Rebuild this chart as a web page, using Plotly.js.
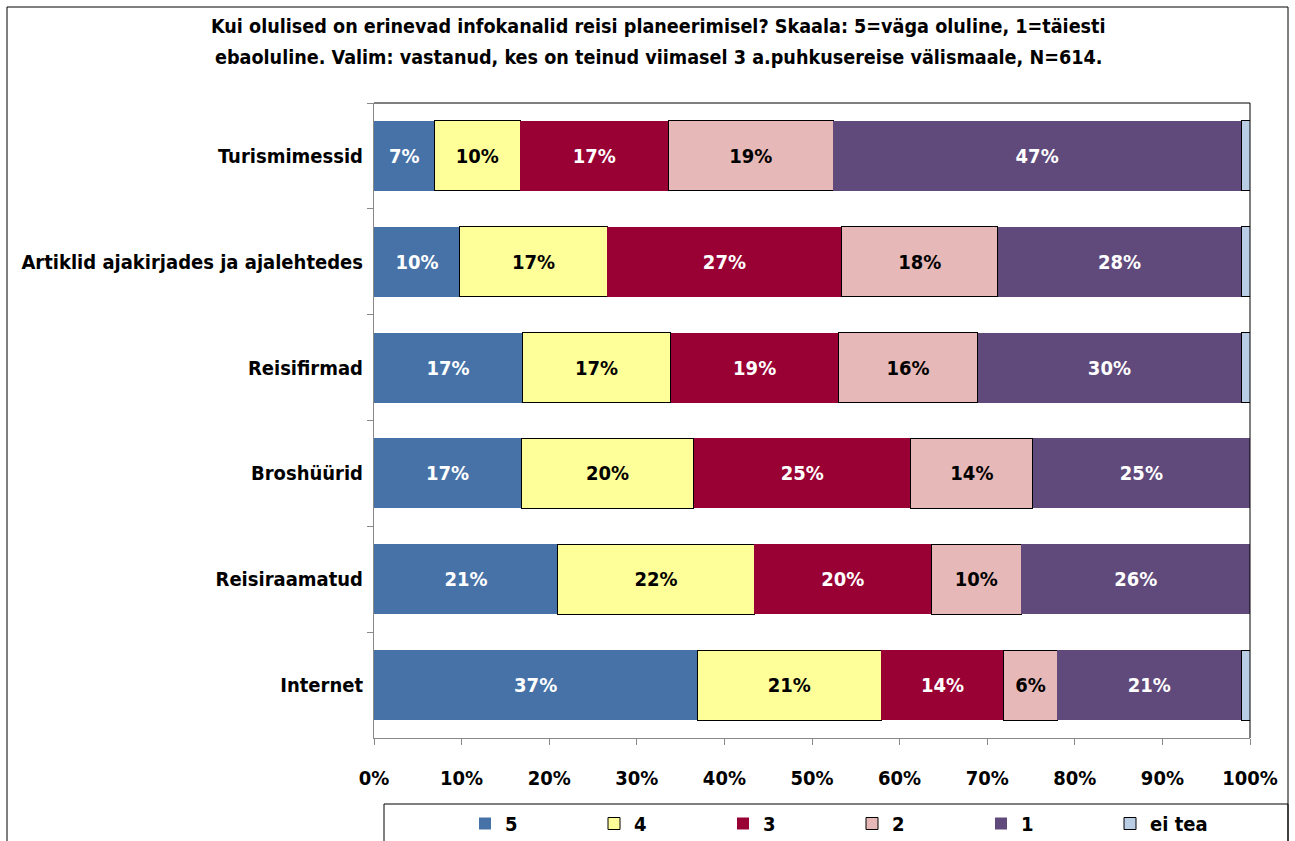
<!DOCTYPE html>
<html>
<head>
<meta charset="utf-8">
<script src="https://cdn.plot.ly/plotly-3.0.1.min.js"></script>
<style>
  html, body { margin: 0; padding: 0; background: #fff; }
  #chart { width: 1295px; height: 841px; }
</style>
</head>
<body>
<div id="chart"></div>
<script>
const categories = ["Turismimessid", "Artiklid ajakirjades ja ajalehtedes", "Reisifirmad", "Broshüürid", "Reisiraamatud", "Internet"];
const seriesNames = ["5", "4", "3", "2", "1", "ei tea"];
const v5    = [6.9, 9.8, 16.9, 16.8, 21.0, 36.9];
const v4    = [9.8, 16.8, 17.0, 19.7, 22.4, 21.0];
const v3    = [16.9, 26.8, 19.1, 24.8, 20.2, 14.0];
const v2    = [18.8, 17.8, 15.9, 13.9, 10.3, 6.1];
const v1    = [46.6, 27.8, 30.1, 24.8, 26.1, 21.0];
const vEi   = [1.0, 1.0, 1.0, 0.0, 0.0, 1.0];
const xTicks = [0, 10, 20, 30, 40, 50, 60, 70, 80, 90, 100];
const xTickLabels = ["0%", "10%", "20%", "30%", "40%", "50%", "60%", "70%", "80%", "90%", "100%"];
const titleLine1 = "Kui olulised on erinevad infokanalid reisi planeerimisel? Skaala: 5=väga oluline, 1=täiesti";
const titleLine2 = "ebaoluline. Valim: vastanud, kes on teinud viimasel 3 a.puhkusereise välismaale, N=614.";

const FONT = '"Liberation Sans Narrow", "DejaVu Sans Condensed", "Liberation Sans", Arial, sans-serif';
const values = [v5, v4, v3, v2, v1, vEi];
const colors = ["#4672A8", "#FFFF99", "#990033", "#E6B9B8", "#604A7B", "#B9CDE5"];
const lineColors = ["#4672A8", "#000000", "#990033", "#000000", "#604A7B", "#000000"];
const lineWidths = [0, 1, 0, 1, 0, 1];
const textColors = ["#FFFFFF", "#000000", "#FFFFFF", "#000000", "#FFFFFF", "#000000"];

const traces = values.map((vals, i) => ({
  type: "bar",
  orientation: "h",
  name: seriesNames[i],
  y: categories,
  x: vals,
  marker: { color: colors[i], line: { color: lineColors[i], width: lineWidths[i] } },
  text: i === 5 ? null : vals.map(v => Math.round(v) + "%"),
  textposition: i === 5 ? "none" : "inside",
  insidetextanchor: "middle",
  constraintext: "none",
  textangle: 0,
  textfont: { family: FONT, size: 20, color: textColors[i], weight: "bold" },
  hoverinfo: "name+x"
}));

const H = 635, W = 876;
const px = X => (X - 374) / W;
const py = Y => 1 - (Y - 103) / H;
const layout = {
  width: 1295,
  height: 841,
  margin: { l: 374, r: 45, t: 103, b: 103, autoexpand: false },
  paper_bgcolor: "#FFFFFF",
  plot_bgcolor: "#FFFFFF",
  barmode: "stack",
  bargap: 0.34,
  font: { family: FONT, size: 20, color: "#000000", weight: "bold" },
  showlegend: true,
  legend: {
    orientation: "h",
    x: px(465), xanchor: "left",
    y: py(804), yanchor: "top",
    borderwidth: 0,
    bgcolor: "rgba(0,0,0,0)",
    entrywidth: 84,
    traceorder: "normal",
    font: { family: FONT, size: 20, color: "#000000", weight: "bold" }
  },
  xaxis: {
    range: [0, 100],
    tickvals: xTicks,
    ticktext: xTickLabels,
    ticks: "outside",
    ticklen: 6,
    tickcolor: "#888888",
    showline: true,
    linecolor: "#888888",
    linewidth: 1,
    showgrid: false,
    zeroline: false,
    ticklabelstandoff: 16,
    tickfont: { family: FONT, size: 20, color: "#000000", weight: "bold" },
    fixedrange: true
  },
  yaxis: {
    autorange: "reversed",
    type: "category",
    ticks: "outside",
    tickson: "boundaries",
    ticklen: 6,
    tickcolor: "#888888",
    showline: true,
    linecolor: "#888888",
    linewidth: 1,
    showgrid: false,
    zeroline: false,
    ticklabelstandoff: 6,
    tickfont: { family: FONT, size: 20, color: "#000000", weight: "bold" },
    fixedrange: true
  },
  annotations: [
    { text: titleLine1, xref: "paper", yref: "paper", x: px(658), y: py(27),
      xanchor: "center", yanchor: "middle", showarrow: false,
      font: { family: FONT, size: 19.6, color: "#000000", weight: "bold" } },
    { text: titleLine2, xref: "paper", yref: "paper", x: px(658), y: py(57),
      xanchor: "center", yanchor: "middle", showarrow: false,
      font: { family: FONT, size: 19.6, color: "#000000", weight: "bold" } }
  ],
  shapes: [
    { type: "line", xref: "paper", yref: "paper", x0: 0, x1: 1, y0: 1, y1: 1, line: { color: "#000000", width: 1 } },
    { type: "line", xref: "paper", yref: "paper", x0: 1, x1: 1, y0: 0, y1: 1, line: { color: "#000000", width: 1 } },
    { type: "rect", xref: "paper", yref: "paper", x0: px(7), x1: px(1288),
      y0: py(860), y1: py(7), line: { color: "#000000", width: 1 }, fillcolor: "rgba(0,0,0,0)", layer: "below" },
    { type: "rect", xref: "paper", yref: "paper", x0: px(384), x1: px(1288),
      y0: py(860), y1: py(804), line: { color: "#000000", width: 1 }, fillcolor: "rgba(0,0,0,0)", layer: "below" }
  ]
};

Plotly.newPlot("chart", traces, layout, { displayModeBar: false, staticPlot: true });
</script>
</body>
</html>
